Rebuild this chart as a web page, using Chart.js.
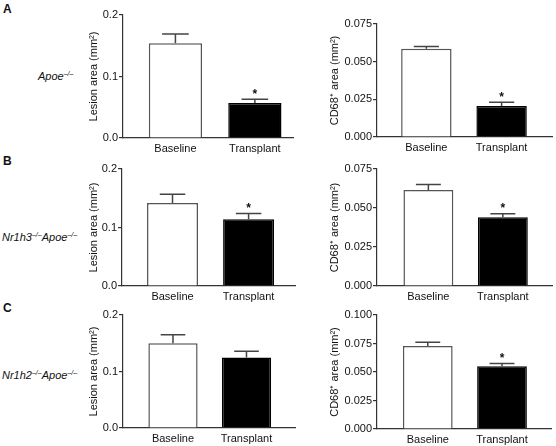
<!DOCTYPE html>
<html><head><meta charset="utf-8">
<script src="https://cdn.jsdelivr.net/npm/chart.js@4/dist/chart.umd.min.js"></script>
<style>
html,body{margin:0;padding:0;background:#fff;width:556px;height:446px;overflow:hidden;font-family:"Liberation Sans",Arial,sans-serif;color:#111}
canvas{position:absolute}
.lbl{position:absolute;font-weight:bold;font-size:12px;line-height:12px}
.gen{position:absolute;font-style:italic;font-size:11px;line-height:12px;white-space:nowrap;transform:translateY(-50%)}
.gen sup{font-size:7px;vertical-align:0;position:relative;top:-4px}
</style></head><body>
<div class="lbl" style="left:3px;top:3px">A</div>
<div class="lbl" style="left:3px;top:155px">B</div>
<div class="lbl" style="left:3px;top:302px">C</div>
<div class="gen" style="left:38px;top:77px">Apoe<sup>–/–</sup></div>
<div class="gen" style="left:2px;top:238px">Nr1h3<sup>–/–</sup>Apoe<sup>–/–</sup></div>
<div class="gen" style="left:2px;top:376px">Nr1h2<sup>–/–</sup>Apoe<sup>–/–</sup></div>
<canvas id="c0"></canvas><canvas id="c1"></canvas><canvas id="c2"></canvas>
<canvas id="c3"></canvas><canvas id="c4"></canvas><canvas id="c5"></canvas>
<script>
// ---- data ----
const categories = ['Baseline', 'Transplant'];
const lesionTicks = [0, 0.1, 0.2];
const cd68Ticks = [0, 0.025, 0.05, 0.075];
const cd68TicksC = [0, 0.025, 0.05, 0.075, 0.1];

const lesionA = [0.154, 0.057];
const lesionAErr = [0.015, 0.006];
const lesionAStar = [false, true];
const cd68A = [0.0586, 0.0205];
const cd68AErr = [0.0015, 0.0025];
const cd68AStar = [false, true];

const lesionB = [0.142, 0.114];
const lesionBErr = [0.015, 0.010];
const lesionBStar = [false, true];
const cd68B = [0.0616, 0.0441];
const cd68BErr = [0.0034, 0.0022];
const cd68BStar = [false, true];

const lesionC = [0.150, 0.125];
const lesionCErr = [0.015, 0.011];
const lesionCStar = [false, false];
const cd68C = [0.0727, 0.0551];
const cd68CErr = [0.0033, 0.0024];
const cd68CStar = [false, true];

const lesionTitle = 'Lesion area (mm²)';
const cd68Title = 'CD68⁺ area (mm²)';

// ---- panels (layout) ----
const FONT = '"Liberation Sans", Arial, sans-serif';
const panels = [
  {vals: lesionA, err: lesionAErr, star: lesionAStar, ticks: lesionTicks, dec: 1, title: lesionTitle,
   cl: 80, axisX: 123, top: 15, bottom: 138, right: 293, xmin: 0.34, xmax: 2.48, tpad: 7.4},
  {vals: cd68A, err: cd68AErr, star: cd68AStar, ticks: cd68Ticks, dec: 3, title: cd68Title,
   cl: 320, axisX: 377, top: 24.3, bottom: 137.7, right: 552, xmin: 0.344, xmax: 2.67, tpad: 8.4},
  {vals: lesionB, err: lesionBErr, star: lesionBStar, ticks: lesionTicks, dec: 1, title: lesionTitle,
   cl: 80, axisX: 122, top: 169.3, bottom: 286.7, right: 295, xmin: 0.336, xmax: 2.61, tpad: 7.4},
  {vals: cd68B, err: cd68BErr, star: cd68BStar, ticks: cd68Ticks, dec: 3, title: cd68Title,
   cl: 320, axisX: 377, top: 169.3, bottom: 286.7, right: 552, xmin: 0.31, xmax: 2.66, tpad: 8.4},
  {vals: lesionC, err: lesionCErr, star: lesionCStar, ticks: lesionTicks, dec: 1, title: lesionTitle,
   cl: 80, axisX: 123, top: 315.3, bottom: 428.3, right: 295, xmin: 0.32, xmax: 2.66, tpad: 7.4},
  {vals: cd68C, err: cd68CErr, star: cd68CStar, ticks: cd68TicksC, dec: 3, title: cd68Title,
   cl: 320, axisX: 377, top: 315, bottom: 428.7, right: 551, xmin: 0.316, xmax: 2.66, tpad: 8.4}
];

const errPlugin = {
  id: 'errbars',
  afterDatasetsDraw(chart) {
    const p = chart.options.plugins.errbars;
    const meta = chart.getDatasetMeta(0);
    const ys = chart.scales.y;
    const ctx = chart.ctx;
    ctx.save();
    meta.data.forEach((bar, i) => {
      const yTop = ys.getPixelForValue(p.vals[i] + p.err[i]);
      const half = bar.width / 4;
      ctx.strokeStyle = '#444';
      ctx.lineWidth = 1.5;
      ctx.beginPath();
      ctx.moveTo(bar.x, bar.y);
      ctx.lineTo(bar.x, yTop);
      ctx.moveTo(bar.x - half, yTop);
      ctx.lineTo(bar.x + half, yTop);
      ctx.stroke();
      if (p.star[i]) {
        ctx.fillStyle = '#111';
        ctx.font = 'bold 12px ' + FONT;
        ctx.textAlign = 'center';
        ctx.textBaseline = 'alphabetic';
        ctx.fillText('*', bar.x, yTop - 1.5);
      }
    });
    ctx.restore();
  }
};

panels.forEach((p, k) => {
  const cv = document.getElementById('c' + k);
  const ctop = p.top - 12;
  const xh = 22;
  const h = Math.round(p.bottom + xh - ctop);
  const w = Math.round(p.right + 4 - p.cl);
  cv.style.left = p.cl + 'px';
  cv.style.top = ctop + 'px';
  cv.style.width = w + 'px';
  cv.style.height = h + 'px';
  cv.width = w; cv.height = h;
  new Chart(cv, {
    type: 'bar',
    data: {
      datasets: [{
        data: p.vals.map((v, i) => ({x: i + 1, y: v})),
        backgroundColor: ['#ffffff', '#000000'],
        borderColor: ['#555555', '#000000'],
        borderWidth: 1.5,
        borderSkipped: 'bottom',
        categoryPercentage: 0.67,
        barPercentage: 1
      }]
    },
    options: {
      responsive: false,
      animation: false,
      events: [],
      layout: {padding: {top: 12, right: 4, left: 0, bottom: 0}},
      plugins: {
        legend: {display: false},
        tooltip: {enabled: false},
        errbars: {vals: p.vals, err: p.err, star: p.star}
      },
      scales: {
        x: {
          type: 'linear',
          min: p.xmin, max: p.xmax,
          offset: false,
          grid: {display: false, drawTicks: false, offset: false},
          border: {display: true, color: '#333', width: 1.2},
          afterBuildTicks: s => { s.ticks = categories.map((c, i) => ({value: i + 1})); },
          afterFit: s => { s.height = xh; },
          ticks: {
            autoSkip: false, maxRotation: 0, padding: 4, color: '#111',
            font: {family: FONT, size: 11},
            callback: v => categories[Math.round(v) - 1]
          }
        },
        y: {
          min: p.ticks[0], max: p.ticks[p.ticks.length - 1],
          grid: {drawOnChartArea: false, drawTicks: true, tickLength: 4, color: '#333', lineWidth: 1.2},
          border: {display: true, color: '#333', width: 1.2},
          afterBuildTicks: s => { s.ticks = p.ticks.map(v => ({value: v})); },
          afterFit: s => { s.width = p.axisX - p.cl; },
          ticks: {
            padding: 1, color: '#111',
            font: {family: FONT, size: 11},
            callback: v => Number(v).toFixed(p.dec)
          },
          title: {
            display: true, text: p.title, color: '#111',
            font: {family: FONT, size: 11},
            padding: {top: p.tpad, bottom: 0}
          }
        }
      }
    },
    plugins: [errPlugin]
  });
});
</script>
</body></html>
